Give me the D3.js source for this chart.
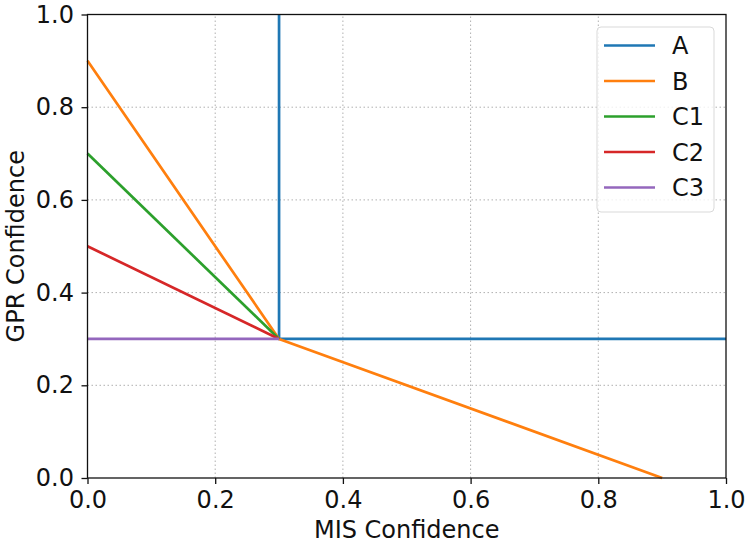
<!DOCTYPE html>
<html>
<head>
<meta charset="utf-8">
<script src="https://cdn.jsdelivr.net/npm/d3@7"></script>
<style>
  body { margin: 0; background: #fff; }
  svg { font-family: "DejaVu Sans", sans-serif; }
</style>
</head>
<body>
<div id="chart"></div>
<script>
// series: each one is a list of [MIS, GPR] points
var seriesNames = ["A", "B", "C1", "C2", "C3"];
var seriesColors = ["#1f77b4", "#ff7f0e", "#2ca02c", "#d62728", "#9467bd"];
var lineA = [[0.3, 1.0], [0.3, 0.3], [1.0, 0.3]];
var lineB = [[0.0, 0.9], [0.3, 0.3], [0.9, 0.0]];
var lineC1 = [[0.0, 0.7], [0.3, 0.3]];
var lineC2 = [[0.0, 0.5], [0.3, 0.3]];
var lineC3 = [[0.0, 0.3], [0.3, 0.3]];
var tickValues = [0.0, 0.2, 0.4, 0.6, 0.8, 1.0];

var allLines = [lineA, lineB, lineC1, lineC2, lineC3];

var width = 752, height = 548;
var margin = {left: 87.5, right: 26, top: 14.5, bottom: 70};
var fontSize = "24px";

var svg = d3.select("#chart").append("svg")
    .attr("width", width)
    .attr("height", height);

var x = d3.scaleLinear().domain([0, 1]).range([margin.left, width - margin.right]);
var y = d3.scaleLinear().domain([0, 1]).range([height - margin.bottom, margin.top]);

// grid
svg.append("g").selectAll("line.gx")
    .data(tickValues.slice(1, -1))
    .enter().append("line")
    .attr("x1", d => x(d)).attr("x2", d => x(d))
    .attr("y1", y(0)).attr("y2", y(1))
    .attr("stroke", "#b0b0b0").attr("stroke-width", 1)
    .attr("stroke-dasharray", "1.5,2.5");
svg.append("g").selectAll("line.gy")
    .data(tickValues.slice(1, -1))
    .enter().append("line")
    .attr("y1", d => y(d)).attr("y2", d => y(d))
    .attr("x1", x(0)).attr("x2", x(1))
    .attr("stroke", "#b0b0b0").attr("stroke-width", 1)
    .attr("stroke-dasharray", "1.5,2.5");

// lines
var line = d3.line().x(d => x(d[0])).y(d => y(d[1]));
var plot = svg.append("g");
allLines.forEach(function (pts, i) {
    plot.append("path")
        .attr("d", line(pts))
        .attr("fill", "none")
        .attr("stroke", seriesColors[i])
        .attr("stroke-width", 2.7)
        .attr("stroke-linejoin", "round");
});

// axes
var xAxis = svg.append("g")
    .attr("transform", "translate(0," + y(0) + ")")
    .call(d3.axisBottom(x).tickValues(tickValues).tickFormat(d3.format(".1f")).tickSize(6).tickPadding(7));
var yAxis = svg.append("g")
    .attr("transform", "translate(" + x(0) + ",0)")
    .call(d3.axisLeft(y).tickValues(tickValues).tickFormat(d3.format(".1f")).tickSize(6).tickPadding(7.5));

[xAxis, yAxis].forEach(function (ax) {
    ax.select(".domain").remove();
    ax.selectAll(".tick line").attr("stroke", "#111").attr("stroke-width", 1.3);
    ax.selectAll("text")
        .attr("fill", "#111")
        .style("font-family", "DejaVu Sans, sans-serif")
        .style("font-size", fontSize);
});

// frame
svg.append("rect")
    .attr("x", x(0)).attr("y", y(1))
    .attr("width", x(1) - x(0)).attr("height", y(0) - y(1))
    .attr("fill", "none").attr("stroke", "#111").attr("stroke-width", 1.3);

// axis titles
svg.append("text")
    .attr("x", (x(0) + x(1)) / 2)
    .attr("y", 538)
    .attr("text-anchor", "middle")
    .style("font-size", fontSize)
    .attr("fill", "#111")
    .text("MIS Confidence");
svg.append("text")
    .attr("transform", "translate(24," + (y(0) + y(1)) / 2 + ") rotate(-90)")
    .attr("text-anchor", "middle")
    .style("font-size", fontSize)
    .attr("fill", "#111")
    .text("GPR Confidence");

// legend
var legend = svg.append("g");
legend.append("rect")
    .attr("x", 597).attr("y", 27)
    .attr("width", 117).attr("height", 185)
    .attr("rx", 4)
    .attr("fill", "#fff").attr("fill-opacity", 0.8)
    .attr("stroke", "#d9d9d9").attr("stroke-width", 1);
seriesNames.forEach(function (name, i) {
    var ly = 45.5 + i * 35.5;
    legend.append("line")
        .attr("x1", 604).attr("x2", 655)
        .attr("y1", ly).attr("y2", ly)
        .attr("stroke", seriesColors[i]).attr("stroke-width", 2.7);
    legend.append("text")
        .attr("x", 672).attr("y", ly + 8.5)
        .style("font-size", fontSize)
        .attr("fill", "#111")
        .text(name);
});
</script>
</body>
</html>
